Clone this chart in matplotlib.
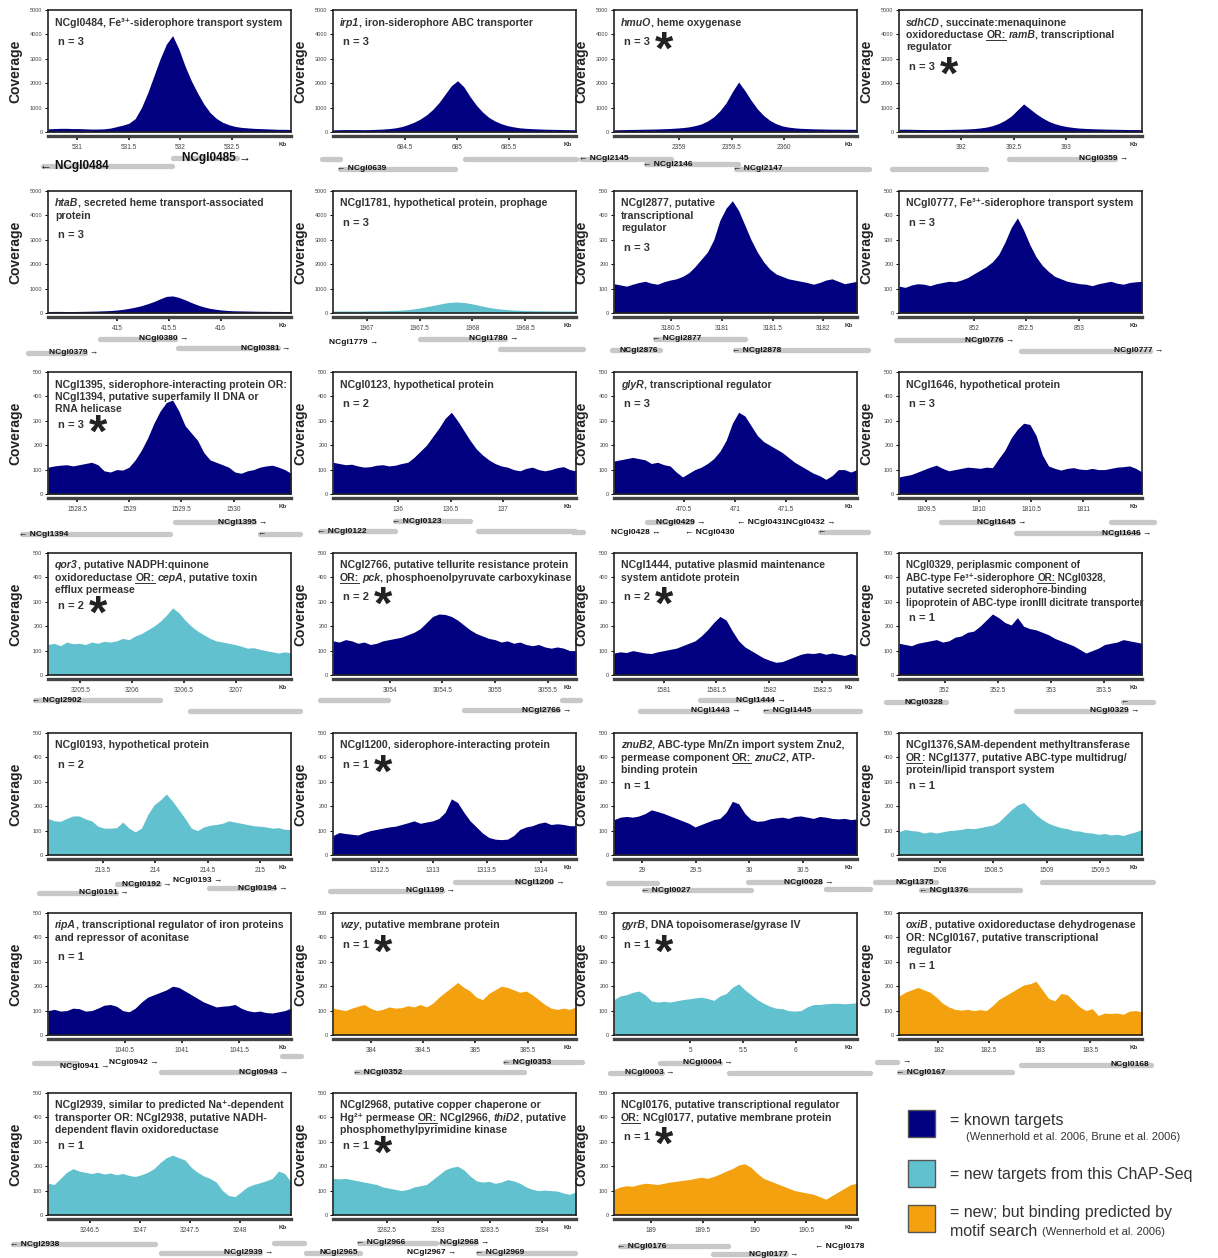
import re
import numpy as np
import matplotlib
matplotlib.use('Agg')
import matplotlib.pyplot as plt
from matplotlib.font_manager import FontProperties
from matplotlib.lines import Line2D
from matplotlib.patches import Rectangle

plt.rcParams['font.family'] = ['Liberation Sans', 'DejaVu Sans']

NAVY = '#000080'
CYAN = '#62c1cf'
ORANGE = '#f4a10f'
GENE_GREY = '#c8c8c8'
INK = '#333333'
CLASS_COLOR = {'known': NAVY, 'new': CYAN, 'motif': ORANGE}

# ---- coverage profiles: 40 evenly spaced samples across each window ----
cov_01 = [130, 140, 150, 150, 140, 140, 130, 120, 120, 130, 160, 220, 280, 360, 550, 1000, 1600, 2300, 3000, 3600,
          3950, 3400, 2700, 2100, 1600, 1150, 800, 560, 400, 300, 230, 190, 170, 150, 140, 130, 120, 110, 110, 100]
cov_02 = [90, 95, 100, 100, 100, 95, 100, 110, 120, 140, 170, 220, 300, 400, 530, 700, 920, 1200, 1550, 1900,
          2100, 1850, 1450, 1100, 820, 600, 450, 340, 260, 210, 170, 150, 135, 125, 115, 110, 105, 100, 95, 90]
cov_03 = [90, 95, 100, 105, 110, 115, 120, 125, 135, 145, 160, 180, 210, 260, 330, 450, 620, 870, 1200, 1650,
          2050, 1700, 1300, 950, 680, 480, 340, 250, 200, 170, 150, 140, 130, 125, 120, 115, 115, 110, 110, 105]
cov_04 = [110, 115, 110, 105, 100, 100, 100, 100, 105, 110, 115, 125, 140, 165, 200, 260, 350, 480, 650, 900,
          1150, 950, 750, 580, 440, 340, 270, 220, 185, 160, 145, 135, 125, 120, 115, 110, 105, 100, 100, 95]
cov_05 = [60, 65, 65, 60, 60, 65, 70, 75, 80, 90, 100, 120, 150, 190, 240, 300, 380, 470, 580, 680,
          700, 640, 540, 430, 330, 250, 190, 150, 120, 100, 90, 85, 80, 75, 70, 70, 65, 65, 60, 60]
cov_06 = [80, 80, 85, 80, 80, 85, 90, 90, 95, 100, 110, 120, 140, 170, 210, 260, 310, 360, 410, 440,
          450, 430, 390, 340, 280, 230, 190, 160, 140, 120, 110, 100, 95, 90, 90, 85, 85, 80, 80, 80]
cov_07 = [120, 115, 110, 118, 125, 130, 122, 118, 128, 135, 140, 150, 165, 190, 220, 250, 300, 380, 430, 460,
          420, 360, 300, 250, 210, 180, 160, 150, 140, 135, 130, 125, 118, 125, 135, 140, 130, 120, 125, 130]
cov_08 = [110, 105, 115, 120, 118, 112, 120, 125, 130, 128, 135, 145, 160, 175, 190, 210, 240, 290, 350, 390,
          340, 280, 230, 195, 170, 150, 140, 130, 125, 120, 118, 112, 120, 125, 130, 122, 118, 125, 128, 130]
cov_09 = [110, 115, 118, 120, 115, 120, 125, 130, 120, 95, 90, 100, 98, 110, 140, 180, 230, 290, 340, 375,
          385, 340, 280, 250, 220, 170, 140, 130, 120, 110, 90, 85, 95, 100, 110, 115, 118, 110, 100, 85]
cov_10 = [130, 125, 120, 122, 115, 110, 112, 118, 120, 115, 118, 125, 130, 150, 175, 200, 235, 270, 310, 335,
          300, 260, 220, 185, 160, 140, 125, 115, 110, 100, 95, 105, 110, 100, 95, 100, 108, 112, 100, 95]
cov_11 = [135, 140, 145, 150, 145, 140, 125, 130, 120, 115, 90, 70, 85, 100, 110, 125, 145, 175, 220, 290,
          335, 320, 280, 240, 215, 200, 185, 170, 150, 130, 115, 100, 85, 75, 60, 75, 100, 100, 90, 100]
cov_12 = [70, 75, 80, 90, 100, 110, 118, 105, 95, 100, 105, 110, 108, 105, 110, 108, 145, 180, 230, 265,
          290, 285, 240, 160, 115, 105, 98, 105, 108, 102, 100, 105, 100, 100, 105, 110, 112, 115, 105, 90]
cov_13 = [125, 130, 120, 135, 128, 130, 125, 135, 130, 138, 135, 140, 150, 145, 160, 170, 185, 200, 220, 245,
          275, 255, 225, 200, 180, 165, 150, 140, 135, 130, 125, 118, 110, 112, 105, 100, 95, 90, 95, 90]
cov_14 = [140, 135, 145, 140, 130, 135, 125, 130, 140, 145, 150, 155, 165, 175, 190, 215, 240, 250, 248, 240,
          225, 205, 185, 170, 160, 150, 145, 135, 140, 130, 135, 125, 120, 125, 115, 110, 115, 110, 100, 100]
cov_15 = [90, 95, 92, 100, 95, 90, 88, 95, 100, 105, 110, 120, 130, 140, 160, 185, 215, 240, 225, 180,
          140, 115, 100, 85, 70, 60, 52, 55, 65, 75, 85, 90, 88, 92, 85, 90, 85, 80, 88, 80]
cov_16 = [130, 125, 120, 130, 135, 140, 145, 135, 140, 155, 160, 175, 180, 200, 225, 250, 235, 215, 205, 235,
          200, 190, 185, 175, 165, 150, 140, 130, 120, 105, 90, 100, 110, 125, 130, 135, 145, 140, 135, 130]
cov_17 = [150, 140, 138, 150, 160, 160, 148, 140, 118, 110, 110, 112, 135, 110, 95, 110, 165, 205, 225, 250,
          220, 185, 150, 110, 100, 115, 122, 125, 130, 140, 135, 130, 125, 120, 118, 115, 110, 112, 105, 105]
cov_18 = [80, 92, 88, 85, 82, 92, 100, 105, 110, 115, 118, 125, 132, 140, 130, 135, 140, 150, 175, 230,
          215, 175, 140, 115, 90, 72, 65, 63, 65, 80, 105, 115, 120, 130, 135, 125, 128, 125, 120, 120]
cov_19 = [145, 155, 158, 155, 160, 170, 185, 178, 170, 160, 150, 140, 130, 115, 125, 135, 145, 150, 175, 220,
          210, 170, 145, 138, 140, 148, 152, 155, 150, 158, 160, 155, 150, 158, 155, 150, 148, 150, 145, 148]
cov_20 = [95, 105, 100, 98, 90, 95, 90, 95, 100, 102, 105, 110, 108, 112, 118, 122, 135, 160, 185, 205,
          215, 190, 165, 145, 130, 120, 112, 108, 100, 98, 92, 90, 85, 88, 82, 85, 80, 88, 95, 105]
cov_21 = [100, 105, 98, 100, 110, 108, 98, 100, 110, 122, 125, 118, 100, 95, 110, 135, 155, 165, 175, 185,
          200, 195, 180, 165, 150, 135, 125, 115, 118, 120, 125, 110, 100, 95, 98, 92, 90, 95, 100, 110]
cov_22 = [110, 105, 100, 110, 118, 125, 110, 100, 105, 115, 110, 112, 120, 115, 125, 115, 130, 155, 175, 195,
          215, 195, 180, 155, 145, 170, 185, 200, 195, 185, 175, 180, 165, 145, 125, 110, 105, 110, 105, 115]
cov_23 = [145, 160, 165, 175, 180, 165, 140, 135, 138, 135, 140, 145, 148, 152, 155, 150, 142, 160, 170, 195,
          210, 185, 165, 145, 130, 118, 110, 108, 100, 98, 100, 115, 125, 125, 128, 130, 130, 128, 130, 132]
cov_24 = [160, 175, 185, 195, 185, 175, 155, 130, 115, 105, 102, 105, 100, 104, 100, 120, 145, 160, 175, 190,
          205, 210, 220, 185, 150, 140, 170, 165, 140, 115, 100, 108, 80, 90, 88, 90, 85, 98, 100, 95]
cov_25 = [130, 125, 150, 175, 190, 180, 175, 170, 175, 168, 172, 165, 170, 162, 158, 165, 175, 190, 215, 235,
          245, 235, 225, 195, 175, 160, 150, 135, 100, 80, 75, 95, 115, 125, 132, 140, 150, 180, 170, 135]
cov_26 = [150, 148, 150, 145, 140, 135, 130, 125, 115, 110, 105, 100, 105, 115, 120, 125, 145, 165, 185, 195,
          200, 185, 160, 140, 135, 138, 130, 135, 145, 140, 130, 115, 105, 100, 102, 100, 98, 90, 85, 95]
cov_27 = [105, 115, 120, 118, 125, 130, 128, 125, 130, 135, 138, 142, 145, 150, 155, 150, 158, 168, 180, 190,
          205, 210, 195, 170, 150, 140, 130, 120, 110, 100, 95, 90, 85, 75, 65, 80, 95, 110, 125, 130]

# ---- genomic windows (kb) and ruler ticks ----
windows = [(530.72, 533.07), (683.81, 686.15), (2358.38, 2360.69), (391.41, 393.72),
           (414.33, 416.68), (1966.68, 1968.98), (3179.94, 3182.33), (851.29, 853.60),
           (1528.22, 1530.55), (135.375, 137.70), (469.82, 472.19), (1809.24, 1811.56),
           (3205.19, 3207.53), (3053.46, 3055.77), (1580.53, 1582.83), (351.57, 353.86),
           (212.97, 215.30), (1312.07, 1314.33), (28.74, 31.00), (1507.62, 1509.89),
           (1039.83, 1041.95), (383.64, 385.96), (4.28, 6.58), (181.61, 184.01),
           (3246.08, 3248.51), (3281.98, 3284.33), (188.64, 190.99)]
kb_ticks = [[531, 531.5, 532, 532.5], [684.5, 685, 685.5], [2359, 2359.5, 2360], [392, 392.5, 393],
            [415, 415.5, 416], [1967, 1967.5, 1968, 1968.5], [3180.5, 3181, 3181.5, 3182], [852, 852.5, 853],
            [1528.5, 1529, 1529.5, 1530], [136, 136.5, 137], [470.5, 471, 471.5], [1809.5, 1810, 1810.5, 1811],
            [3205.5, 3206, 3206.5, 3207], [3054, 3054.5, 3055, 3055.5], [1581, 1581.5, 1582, 1582.5],
            [352, 352.5, 353, 353.5],
            [213.5, 214, 214.5, 215], [1312.5, 1313, 1313.5, 1314], [29, 29.5, 30, 30.5],
            [1508, 1508.5, 1509, 1509.5],
            [1040.5, 1041, 1041.5], [384, 384.5, 385, 385.5], [5, 5.5, 6], [182, 182.5, 183, 183.5],
            [3246.5, 3247, 3247.5, 3248], [3282.5, 3283, 3283.5, 3284], [189, 189.5, 190, 190.5]]

# ---- annotated genes: (start kb, end kb, name, strand, track) ----
genes_01 = [(530.67, 531.92, 'NCgl0484', '-', 1.7), (531.93, 532.55, 'NCgl0485', '+', 0.9)]
genes_02 = [(683.70, 683.88, '', None, 1.0), (683.88, 684.98, 'NCgl0639', '-', 2.0), (685.08, 686.15, '', None, 1.0)]
genes_03 = [(2358.07, 2358.92, 'NCgl2145', '-', 1.0), (2358.68, 2359.56, 'NCgl2146', '-', 1.5),
            (2359.54, 2360.80, 'NCgl2147', '-', 2.0)]
genes_04 = [(392.46, 393.46, 'NCgl0359', '+', 1.0), (391.34, 392.24, '', None, 2.0)]
genes_05 = [(414.14, 414.69, 'NCgl0379', '+', 2.3), (414.83, 415.56, 'NCgl0380', '+', 0.9),
            (415.59, 416.55, 'NCgl0381', '+', 1.8)]
genes_06 = [(1966.98, 1966.98, 'NCgl1779', '+', 1.3), (1967.50, 1968.31, 'NCgl1780', '+', 0.9),
            (1968.26, 1969.05, '', None, 1.9)]
genes_07 = [(3179.92, 3180.39, 'NCgl2876', None, 2.0), (3180.34, 3181.23, 'NCgl2877', '-', 0.9),
            (3181.13, 3182.44, 'NCgl2878', '-', 2.0)]
genes_08 = [(851.26, 852.26, 'NCgl0776', '+', 1.0), (852.45, 853.68, 'NCgl0777', '+', 2.1)]
genes_09 = [(1529.44, 1530.20, 'NCgl1395', '+', 1.1), (1527.97, 1529.39, 'NCgl1394', '-', 2.3),
            (1530.25, 1530.64, '', '-', 2.3)]
genes_10 = [(135.97, 136.69, 'NCgl0123', '-', 1.0), (135.25, 135.97, 'NCgl0122', '-', 2.0),
            (136.76, 137.69, '', None, 2.0)]
genes_11 = [(470.14, 470.58, 'NCgl0429', '+', 1.1), (471.05, 471.05, 'NCgl0431', '-', 1.1),
            (471.85, 471.85, 'NCgl0432', '+', 1.1), (470.14, 470.14, 'NCgl0428', 'both', 2.1),
            (470.54, 470.54, 'NCgl0430', '-', 2.1), (471.83, 472.30, '', '-', 2.1), (469.42, 469.52, '', None, 2.1)]
genes_12 = [(1809.64, 1810.33, 'NCgl1645', '+', 1.1), (1811.26, 1811.67, '', None, 1.1),
            (1810.36, 1811.52, 'NCgl1646', '+', 2.2)]
genes_13 = [(3205.06, 3206.27, 'NCgl2902', '-', 0.8), (3206.56, 3207.62, '', None, 1.9)]
genes_14 = [(3053.34, 3053.98, '', None, 0.8), (3054.71, 3055.60, 'NCgl2766', '+', 1.8),
            (3055.64, 3055.81, '', None, 0.8)]
genes_15 = [(1581.34, 1582.03, 'NCgl1444', '+', 0.8), (1580.78, 1581.60, 'NCgl1443', '+', 1.9),
            (1581.96, 1582.86, 'NCgl1445', '-', 1.9)]
genes_16 = [(351.45, 352.01, 'NCgl0328', None, 1.0), (353.68, 353.96, '', '-', 1.0),
            (352.67, 353.71, 'NCgl0329', '+', 1.9)]
genes_17 = [(212.88, 213.62, 'NCgl0191', '+', 2.1), (213.63, 214.03, 'NCgl0192', '+', 1.2),
            (214.52, 214.52, 'NCgl0193', '+', 0.9), (214.51, 215.14, 'NCgl0194', '+', 1.6)]
genes_18 = [(1313.20, 1314.10, 'NCgl1200', '+', 1.0), (1312.04, 1313.08, 'NCgl1199', '+', 1.9)]
genes_19 = [(28.68, 29.14, '', None, 1.1), (29.02, 30.01, 'NCgl0027', '-', 1.8),
            (29.99, 30.66, 'NCgl0028', '+', 1.0), (30.71, 31.12, '', None, 1.7)]
genes_20 = [(1507.40, 1507.97, 'NCgl1375', None, 1.0), (1507.83, 1508.75, 'NCgl1376', '-', 1.8),
            (1508.96, 1509.99, '', None, 1.0)]
genes_21 = [(1039.71, 1040.08, '', None, 1.1), (1040.25, 1040.25, 'NCgl0941', '+', 1.5),
            (1040.68, 1040.68, 'NCgl0942', '+', 1.0), (1040.82, 1041.81, 'NCgl0943', '+', 2.0),
            (1041.87, 1042.04, '', None, 0.4)]
genes_22 = [(385.28, 386.02, 'NCgl0353', '-', 1.0), (383.86, 385.46, 'NCgl0352', '-', 2.0)]
genes_23 = [(4.72, 5.28, 'NCgl0004', '+', 1.1), (4.24, 4.73, 'NCgl0003', '+', 2.1), (5.37, 6.70, '', None, 2.1)]
genes_24 = [(181.39, 181.59, '', '+', 1.0), (181.61, 182.73, 'NCgl0167', '-', 2.0),
            (182.81, 184.10, 'NCgl0168', None, 1.3)]
genes_25 = [(3245.73, 3247.15, 'NCgl2938', '-', 1.2), (3247.21, 3248.20, 'NCgl2939', '+', 2.1),
            (3248.34, 3248.64, '', None, 1.1)]
genes_26 = [(3282.23, 3282.98, 'NCgl2966', '-', 1.1), (3283.02, 3283.36, 'NCgl2968', '+', 1.1),
            (3281.72, 3282.24, 'NCgl2965', None, 2.1), (3283.04, 3283.04, 'NCgl2967', '+', 2.1),
            (3283.38, 3284.32, 'NCgl2969', '-', 2.1)]
genes_27 = [(188.70, 189.74, 'NCgl0176', '-', 1.4), (189.60, 190.30, 'NCgl0177', '+', 2.2),
            (190.61, 190.61, 'NCgl0178', '-', 1.5)]

# ---- panel captions: _italic_, [underlined] ----
titles = [
    'NCgl0484, Fe³⁺-siderophore transport system',
    '_irp1_, iron-siderophore ABC transporter',
    '_hmuO_, heme oxygenase',
    '_sdhCD_, succinate:menaquinone\noxidoreductase [OR:] _ramB_, transcriptional\nregulator',
    '_htaB_, secreted heme transport-associated\nprotein',
    'NCgl1781, hypothetical protein, prophage',
    'NCgl2877, putative\ntranscriptional\nregulator',
    'NCgl0777, Fe³⁺-siderophore transport system',
    'NCgl1395, siderophore-interacting protein OR:\nNCgl1394, putative superfamily II DNA or\nRNA helicase',
    'NCgl0123, hypothetical protein',
    '_glyR_, transcriptional regulator',
    'NCgl1646, hypothetical protein',
    '_qor3_, putative NADPH:quinone\noxidoreductase [OR:] _cepA_, putative toxin\nefflux permease',
    'NCgl2766, putative tellurite resistance protein\n[OR:] _pck_, phosphoenolpyruvate carboxykinase',
    'NCgl1444, putative plasmid maintenance\nsystem antidote protein',
    'NCgl0329, periplasmic component of\nABC-type Fe³⁺-siderophore [OR:] NCgl0328,\n'
    'putative secreted siderophore-binding\nlipoprotein of ABC-type ironIII dicitrate transporter',
    'NCgl0193, hypothetical protein',
    'NCgl1200, siderophore-interacting protein',
    '_znuB2_, ABC-type Mn/Zn import system Znu2,\npermease component [OR:] _znuC2_, ATP-\nbinding protein',
    'NCgl1376,SAM-dependent methyltransferase\n[OR]: NCgl1377, putative ABC-type multidrug/\n'
    'protein/lipid transport system',
    '_ripA_, transcriptional regulator of iron proteins\nand repressor of aconitase',
    '_wzy_, putative membrane protein',
    '_gyrB_, DNA topoisomerase/gyrase IV',
    '_oxiB_, putative oxidoreductase dehydrogenase\nOR: NCgl0167, putative transcriptional\nregulator',
    'NCgl2939, similar to predicted Na⁺-dependent\ntransporter OR: NCgl2938, putative NADH-\n'
    'dependent flavin oxidoreductase',
    'NCgl2968, putative copper chaperone or\nHg²⁺ permease [OR:] NCgl2966, _thiD2_, putative\n'
    'phosphomethylpyrimidine kinase',
    'NCgl0176, putative transcriptional regulator\n[OR:] NCgl0177, putative membrane protein',
]
n_reps = [3, 3, 3, 3, 3, 3, 3, 3, 3, 2, 3, 3, 2, 2, 2, 1, 2, 1, 1, 1, 1, 1, 1, 1, 1, 1, 1]
starred = [0, 0, 1, 1, 0, 0, 0, 0, 1, 0, 0, 0, 1, 1, 1, 0, 0, 1, 0, 0, 0, 1, 1, 0, 0, 1, 1]
target_class = ['known', 'known', 'known', 'known', 'known', 'new', 'known', 'known',
                'known', 'known', 'known', 'known', 'new', 'known', 'known', 'known',
                'new', 'known', 'known', 'new', 'known', 'motif', 'new', 'motif',
                'new', 'new', 'motif']
y_max = [5000] * 6 + [500] * 21

coverages = [cov_01, cov_02, cov_03, cov_04, cov_05, cov_06, cov_07, cov_08, cov_09, cov_10,
             cov_11, cov_12, cov_13, cov_14, cov_15, cov_16, cov_17, cov_18, cov_19, cov_20,
             cov_21, cov_22, cov_23, cov_24, cov_25, cov_26, cov_27]
gene_tracks = [genes_01, genes_02, genes_03, genes_04, genes_05, genes_06, genes_07, genes_08, genes_09,
               genes_10, genes_11, genes_12, genes_13, genes_14, genes_15, genes_16, genes_17, genes_18,
               genes_19, genes_20, genes_21, genes_22, genes_23, genes_24, genes_25, genes_26, genes_27]

legend_labels = ['known targets', 'new targets from this ChAP-Seq', 'new; but binding predicted by']

# ---- page layout (pixels) ----
W, H = 1218, 1258
COL_LEFT = [48, 333, 614, 899]
ROW_TOP = [10, 191, 372, 553, 733, 913, 1093]
AX_W, AX_H = 243, 122
FAMILY = ['Liberation Sans', 'DejaVu Sans']
LOOSE_N = {3, 6}  # panels whose replicate count sits further below the caption

fig = plt.figure(figsize=(W / 100, H / 100), dpi=100)
renderer = fig.canvas.get_renderer()


def text_width(s, fp):
    bar = renderer.get_text_width_height_descent('|', fp, ismath=False)[0]
    return renderer.get_text_width_height_descent(s + '|', fp, ismath=False)[0] - bar


def rich_line(x, y, line, size, color):
    # x, y in pixels, y counted from the top of the page (baseline)
    for seg in re.split(r'(_[^_]+_|\[[^\]]+\])', line):
        if not seg:
            continue
        style, underline = 'normal', False
        if seg.startswith('_'):
            seg, style = seg[1:-1], 'italic'
        elif seg.startswith('['):
            seg, underline = seg[1:-1], True
        fp = FontProperties(family=FAMILY, weight='bold', style=style, size=size)
        fig.text(x / W, 1 - y / H, seg, fontproperties=fp, color=color, va='baseline', ha='left')
        w = text_width(seg, fp)
        if underline:
            fig.add_artist(Line2D([x / W, (x + w) / W], [1 - (y + 2) / H] * 2, color=color, lw=0.7))
        x += w


def draw_genes(ax, genes, size):
    trans = ax.get_xaxis_transform()
    for start, end, name, strand, track in genes:
        y = -(17 + 10 * track) / AX_H
        if end > start:
            ax.plot([start, end], [y, y], transform=trans, color=GENE_GREY, lw=3.8,
                    solid_capstyle='round', clip_on=False, zorder=1)
        if strand == '+':
            label, x, dx, ha = (name + ' →').strip(), end, 9.5, 'right'
        elif strand == 'both':
            label, x, dx, ha = name + ' ↔', end, 9.5, 'right'
        elif strand == '-':
            label, x, dx, ha = ('← ' + name).strip(), start, -2, 'left'
        elif name:
            label, x, dx, ha = name, end, -1.5, 'right'
        else:
            continue
        ax.annotate(label, xy=(x, y), xycoords=trans, xytext=(dx, 0), textcoords='offset points',
                    ha=ha, va='center', fontsize=size, fontweight='bold', color='#111111',
                    annotation_clip=False, zorder=3)


for i in range(27):
    r, c = divmod(i, 4)
    left, top = COL_LEFT[c], ROW_TOP[r]
    ax = fig.add_axes([left / W, 1 - (top + AX_H) / H, AX_W / W, AX_H / H])
    lo, hi = windows[i]
    cov = coverages[i]
    x = np.linspace(lo, hi, len(cov))
    ax.fill_between(x, cov, 0, color=CLASS_COLOR[target_class[i]], lw=0, zorder=1)
    ax.set_xlim(lo, hi)
    ax.set_ylim(0, y_max[i])
    ax.set_yticks(np.arange(0, y_max[i] + 1, y_max[i] // 5))
    ax.tick_params(axis='y', labelsize=4, length=2.5, width=0.7, pad=1.5, labelcolor='#444444')
    ax.tick_params(axis='x', bottom=False, labelbottom=False)
    for sp in ax.spines.values():
        sp.set_linewidth(1.2)
        sp.set_color('#222222')
    ax.set_ylabel('Coverage', fontsize=10, fontweight='bold', color='#222222')
    ax.yaxis.set_label_coords(-0.105, 0.5)

    # kb ruler just under the frame
    ruler = ax.secondary_xaxis(-0.03)
    ruler.set_xticks(kb_ticks[i])
    ruler.set_xticklabels([f'{t:g}' for t in kb_ticks[i]])
    ruler.tick_params(length=3, width=1.4, labelsize=4.7, pad=3, labelcolor='#444444', color='#333333')
    ruler.spines['bottom'].set_linewidth(2.4)
    ruler.spines['bottom'].set_color('#444444')
    ax.text(0.985, -0.105, 'Kb', transform=ax.transAxes, ha='right', va='center',
            fontsize=4.5, fontweight='bold', color='#333333')

    draw_genes(ax, gene_tracks[i], 8.5 if i == 0 else 6)

    # caption, replicate count and marker
    lines = titles[i].split('\n')
    size = 7.1 if len(lines) > 3 else 7.6
    for k, line in enumerate(lines):
        rich_line(left + 7, top + 15.5 + 12.4 * k, line, size, INK)
    gap = 20 if (len(lines) < 3 or i in LOOSE_N) else 16
    n_center = top + 12 + 12.4 * (len(lines) - 1) + gap
    fig.text((left + 10) / W, 1 - n_center / H, f'n = {n_reps[i]}', fontsize=8, fontweight='bold',
             color=INK, va='center', ha='left')
    if starred[i]:
        fig.text((left + 50) / W, 1 - (n_center + 9.5) / H, '*', fontsize=34, fontweight='bold',
                 color='#222222', va='center', ha='center')

# colour key
for k, cls in enumerate(['known', 'new', 'motif']):
    y0 = [1110, 1160, 1205][k]
    fig.add_artist(Rectangle((908 / W, 1 - (y0 + 27) / H), 27 / W, 27 / H, facecolor=CLASS_COLOR[cls],
                             edgecolor='#555555', lw=1, transform=fig.transFigure))
fig.text(950 / W, 1 - 1121 / H, '= ' + legend_labels[0], fontsize=11.5, color=INK, va='center')
fig.text(966 / W, 1 - 1137 / H, '(Wennerhold et al. 2006, Brune et al. 2006)', fontsize=8, color=INK,
         va='center')
fig.text(950 / W, 1 - 1175 / H, '= ' + legend_labels[1], fontsize=11.5, color=INK, va='center')
fig.text(950 / W, 1 - 1213 / H, '= ' + legend_labels[2], fontsize=11.5, color=INK, va='center')
motif = fig.text(950 / W, 1 - 1231 / H, 'motif search', fontsize=11.5, color=INK, va='center')
fig.text((950 + text_width('motif search ', motif.get_fontproperties())) / W, 1 - 1232 / H,
         '(Wennerhold et al. 2006)', fontsize=8, color=INK, va='center')

fig.savefig('out.png', dpi=100)
